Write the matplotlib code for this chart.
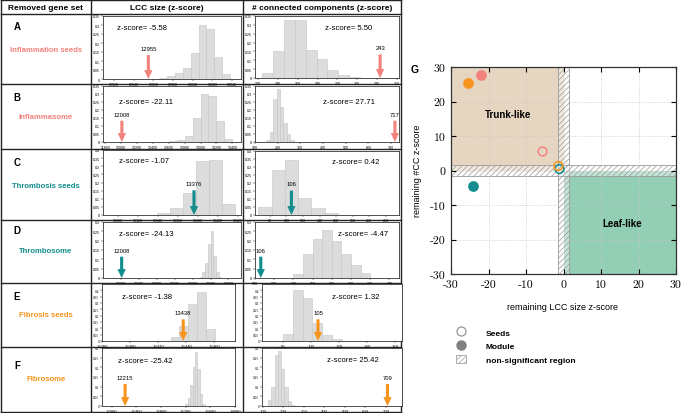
import numpy as np
import matplotlib
matplotlib.use("Agg")
import matplotlib.pyplot as plt
import matplotlib.transforms as mtransforms
from matplotlib.patches import Rectangle, Patch
from matplotlib.lines import Line2D

plt.rcParams['font.family'] = ['Liberation Sans', 'DejaVu Sans']
plt.rcParams['hatch.linewidth'] = 0.5
plt.rcParams['axes.unicode_minus'] = False

W, H = 685, 414

# ---------------- data ----------------
row_letters = ['A', 'B', 'C', 'D', 'E', 'F']
gene_sets = ['Inflammation seeds', 'Inflammasome', 'Thrombosis seeds',
             'Thrombosome', 'Fibrosis seeds', 'Fibrosome']
lcc_z = [-5.58, -22.11, -1.07, -24.13, -1.38, -25.42]
cc_z = [5.50, 27.71, 0.42, -4.47, 1.32, 25.42]
lcc_obs = [12955, 12008, 13376, 12008, 13438, 12215]
cc_obs = [243, 717, 106, 106, 105, 709]

# random-removal histograms: bin left edges, bin width, probability
a_lcc_left = [12966, 12974, 12982, 12990, 12998, 13006, 13014, 13022, 13030]
a_lcc_w = 8
a_lcc_p = [0.005, 0.014, 0.036, 0.06, 0.143, 0.30, 0.28, 0.12, 0.03]
a_cc_left = [124, 135, 146, 157, 168, 179, 190, 201, 212, 223]
a_cc_w = 11
a_cc_p = [0.029, 0.15, 0.33, 0.33, 0.16, 0.105, 0.045, 0.018, 0.005, 0.002]

b_lcc_left = [12600, 12700, 12800, 12900, 13000, 13100, 13200, 13300]
b_lcc_w = 100
b_lcc_p = [0.004, 0.015, 0.04, 0.15, 0.30, 0.285, 0.13, 0.02]
b_cc_left = [150, 165, 180, 195, 210, 225, 240, 255]
b_cc_w = 15
b_cc_p = [0.01, 0.06, 0.27, 0.33, 0.22, 0.12, 0.05, 0.015]

c_lcc_left = [13339, 13352, 13365, 13378, 13391, 13404]
c_lcc_w = 13
c_lcc_p = [0.012, 0.046, 0.136, 0.33, 0.34, 0.066]
c_cc_left = [66, 82, 98, 114, 130, 146, 162]
c_cc_w = 16
c_cc_p = [0.05, 0.28, 0.345, 0.105, 0.042, 0.012, 0.003]

d_lcc_left = [12880, 12910, 12940, 12970, 13000, 13030, 13060, 13090]
d_lcc_w = 30
d_lcc_p = [0.005, 0.03, 0.08, 0.18, 0.25, 0.12, 0.03, 0.005]
d_cc_left = [140, 150, 160, 170, 180, 190, 200, 210]
d_cc_w = 10
d_cc_p = [0.02, 0.127, 0.21, 0.257, 0.2, 0.127, 0.068, 0.025]

e_lcc_left = [13429, 13435.3, 13441.6, 13447.9, 13454.2]
e_lcc_w = 6.3
e_lcc_p = [0.035, 0.115, 0.29, 0.39, 0.097]
e_cc_left = [80, 87, 94, 101, 108, 115]
e_cc_w = 7
e_cc_p = [0.055, 0.4, 0.34, 0.14, 0.05, 0.015]

f_lcc_left = [13190, 13230, 13270, 13310, 13350, 13390, 13430, 13470]
f_lcc_w = 40
f_lcc_p = [0.01, 0.04, 0.11, 0.2, 0.28, 0.19, 0.06, 0.01]
f_cc_left = [125, 141, 157, 173, 189, 205, 221, 237]
f_cc_w = 16
f_cc_p = [0.03, 0.1, 0.266, 0.283, 0.19, 0.1, 0.026, 0.005]

# axis ranges / ticks of the small histograms
lcc_xlim = [(12909, 13049), (11770, 13510), (13285, 13423), (11800, 13340), (13380, 13475), (11840, 14000)]
lcc_xticks = [[12920, 12940, 12960, 12980, 13000, 13020, 13040],
              [11800, 12000, 12200, 12400, 12600, 12800, 13000, 13200, 13400],
              [13300, 13320, 13340, 13360, 13380, 13400, 13420],
              [12000, 12200, 12400, 12600, 12800, 13000, 13200],
              [13380, 13400, 13420, 13440, 13460],
              [12000, 12400, 12800, 13200, 13600, 14000]]
cc_xlim = [(117, 262), (100, 735), (62, 236), (100, 250), (65, 165), (95, 780)]
cc_xticks = [[120, 140, 160, 180, 200, 220, 240, 260],
             [100, 200, 300, 400, 500, 600, 700],
             [80, 100, 120, 140, 160, 180, 200, 220],
             [100, 120, 140, 160, 180, 200, 220, 240],
             [80, 100, 120, 140, 160],
             [100, 200, 300, 400, 500, 600, 700]]
row_ymax = [0.35, 0.35, 0.4, 0.3, 0.45, 0.3]
row_ytick_max = [0.35, 0.35, 0.4, 0.3, 0.4, 0.3]

# ---------------- styling / layout ----------------
c_infl, c_thr, c_fib = '#f4827c', '#138d8d', '#f7941d'
row_colors = [c_infl, c_infl, c_thr, c_thr, c_fib, c_fib]

lcc_rects = [(103, 17, 241, 80), (103, 87, 241, 143), (103, 151, 241, 216),
             (103, 223, 241, 279), (102, 285, 235, 342), (102, 349, 235, 407)]
cc_rects = [(255, 17, 399, 79), (255, 87, 399, 143), (255, 152, 399, 216),
            (255, 223, 399, 279), (262, 285, 402, 342), (262, 349, 402, 407)]
lcc_zpos = [(117, 29), (119, 103), (119, 162), (119, 235), (122, 298), (118, 362)]
cc_zpos = [(325, 29), (323, 103), (332, 163), (338, 235), (332, 298), (327, 361)]
letter_y = [27, 98, 163, 231, 297, 366]
name_y = [50, 118, 187, 252, 316, 380]

fig = plt.figure(figsize=(W / 100, H / 100), dpi=100)
bg = fig.add_axes([0, 0, 1, 1])
bg.set_xlim(0, W)
bg.set_ylim(H, 0)
bg.axis('off')


def px_rect(x0, y0, x1, y1):
    return [x0 / W, 1 - y1 / H, (x1 - x0) / W, (y1 - y0) / H]


# table grid
for y in [1, 15, 85, 150, 221, 284, 348, 413]:
    bg.plot([1, 401], [y, y], color='#222222', lw=1.0)
for x in [1, 91, 243, 401]:
    bg.plot([x, x], [1, 413], color='#222222', lw=1.0)

bg.text(46, 8, 'Removed gene set', ha='center', va='center', fontsize=6, weight='bold')
bg.text(167, 8, 'LCC size (z-score)', ha='center', va='center', fontsize=6, weight='bold')
bg.text(322, 8, '# connected components (z-score)', ha='center', va='center', fontsize=6, weight='bold')

for i in range(6):
    bg.text(17, letter_y[i], row_letters[i], ha='center', va='center', fontsize=7, weight='bold')
    bg.text(46, name_y[i], gene_sets[i], ha='center', va='center', fontsize=5.6,
            weight='bold', color=row_colors[i])


def draw_hist(rect, left, width, prob, xlim, xticks, ymax, ytmax, obs, z, zpos, color, serif):
    ax = fig.add_axes(px_rect(*rect))
    ax.bar(left, prob, width=width, align='edge', color='#dcdcdc',
           edgecolor='#c4c4c4', lw=0.4)
    ax.set_xlim(xlim)
    ax.set_ylim(0, ymax)
    yt = np.arange(0, ytmax + 1e-6, 0.05)
    ax.set_yticks(yt)
    ax.set_yticklabels([f'{round(v, 2):g}' for v in yt])
    ax.set_xticks(xticks)
    ax.set_xticklabels([str(t) for t in xticks])
    fam = 'Liberation Serif' if serif else 'Liberation Sans'
    ax.tick_params(axis='y', labelsize=2.6, length=1.2, width=0.3, pad=0.8)
    ax.tick_params(axis='x', labelsize=3.4 if serif else 2.6, length=1.2, width=0.3, pad=0.8)
    for lab in ax.get_xticklabels() + ax.get_yticklabels():
        lab.set_family(fam)
    for s in ax.spines.values():
        s.set_linewidth(0.6)
        s.set_color('#333333')
    trans = mtransforms.blended_transform_factory(ax.transData, ax.transAxes)
    ax.annotate('', xy=(obs, 0), xytext=(obs, 0.38), xycoords=trans, textcoords=trans,
                arrowprops=dict(arrowstyle='simple,head_length=0.8,head_width=0.75,tail_width=0.28',
                                fc=color, ec='none', shrinkA=0, shrinkB=0, mutation_scale=8))
    ax.text(obs, 0.45, str(obs), transform=trans, ha='center', va='bottom', fontsize=4.2)
    ax.text(zpos[0], zpos[1], f'z-score= {z:.2f}', transform=bg.transData,
            ha='left', va='center', fontsize=5.6)
    return ax


lcc_data = [(a_lcc_left, a_lcc_w, a_lcc_p), (b_lcc_left, b_lcc_w, b_lcc_p),
            (c_lcc_left, c_lcc_w, c_lcc_p), (d_lcc_left, d_lcc_w, d_lcc_p),
            (e_lcc_left, e_lcc_w, e_lcc_p), (f_lcc_left, f_lcc_w, f_lcc_p)]
cc_data = [(a_cc_left, a_cc_w, a_cc_p), (b_cc_left, b_cc_w, b_cc_p),
           (c_cc_left, c_cc_w, c_cc_p), (d_cc_left, d_cc_w, d_cc_p),
           (e_cc_left, e_cc_w, e_cc_p), (f_cc_left, f_cc_w, f_cc_p)]

for i in range(6):
    serif = i >= 4
    l, w, p = lcc_data[i]
    draw_hist(lcc_rects[i], l, w, p, lcc_xlim[i], lcc_xticks[i], row_ymax[i], row_ytick_max[i],
              lcc_obs[i], lcc_z[i], lcc_zpos[i], row_colors[i], serif)
    l, w, p = cc_data[i]
    draw_hist(cc_rects[i], l, w, p, cc_xlim[i], cc_xticks[i], row_ymax[i], row_ytick_max[i],
              cc_obs[i], cc_z[i], cc_zpos[i], row_colors[i], serif)

# ---------------- panel G ----------------
ns = 1.5  # half-width of non-significant band
axg = fig.add_axes(px_rect(451, 68, 676, 275))
axg.set_xlim(-30, 30)
axg.set_ylim(-30, 30)
axg.add_patch(Rectangle((-30, 0), 30, 30, fc='#e6d6c1', ec='none', zorder=1))
axg.add_patch(Rectangle((0, -30), 30, 30, fc='#93cfb4', ec='none', zorder=1))
axg.add_patch(Rectangle((-ns, -30), 2 * ns, 60, fc=(1, 1, 1, 0.45), ec='#9a9a9a',
                        hatch='//////', lw=0.6, zorder=1.2))
axg.add_patch(Rectangle((-30, -ns), 60, 2 * ns, fc=(1, 1, 1, 0.45), ec='#9a9a9a',
                        hatch='//////', lw=0.6, zorder=1.2))
axg.grid(True, ls=':', color='#c8c8c8', lw=0.6)

for i in range(6):
    if i % 2 == 0:  # seeds: open
        axg.scatter(lcc_z[i], cc_z[i], s=40, facecolors='none', edgecolors=row_colors[i],
                    linewidths=1.1, zorder=3)
    else:  # module: filled
        axg.scatter(lcc_z[i], cc_z[i], s=45, color=row_colors[i], zorder=3)

axg.text(-14.8, 16.4, 'Trunk-like', ha='center', va='center', fontsize=7, weight='bold')
axg.text(15.6, -15.3, 'Leaf-like', ha='center', va='center', fontsize=7, weight='bold')

gt = [-30, -20, -10, 0, 10, 20, 30]
axg.set_xticks(gt)
axg.set_yticks(gt)
axg.set_xticklabels([str(t) for t in gt], family='cmr10', fontsize=8.5)
axg.set_yticklabels([str(t) for t in gt], family='cmr10', fontsize=8.5)
axg.tick_params(direction='in', top=True, right=True, length=3.5, width=0.8, pad=4)
for s in axg.spines.values():
    s.set_linewidth(0.9)
    s.set_color('#333333')

bg.text(563, 308, 'remaining LCC size z-score', ha='center', va='center', fontsize=6.5)
bg.text(418, 171, 'remaining #CC z-score', ha='center', va='center', fontsize=6.5, rotation=90)
bg.text(415, 70, 'G', ha='center', va='center', fontsize=7.5, weight='bold')

h_seed = Line2D([], [], marker='o', ls='none', mfc='white', mec='#8a8a8a', mew=0.8, ms=6.5)
h_mod = Line2D([], [], marker='o', ls='none', mfc='#808080', mec='#808080', ms=6.5)
h_ns = Patch(fc='white', ec='#a0a0a0', hatch='//////', lw=0.6)
fig.legend([h_seed, h_mod, h_ns], ['Seeds', 'Module', 'non-significant region'],
           loc='upper left', bbox_to_anchor=(456 / W, 1 - 329 / H), frameon=False,
           prop={'weight': 'bold', 'size': 6}, handlelength=1.2, handleheight=1.1,
           handletextpad=2.4, labelspacing=0.55, borderaxespad=0, borderpad=0)

fig.savefig('out.png', dpi=100)
